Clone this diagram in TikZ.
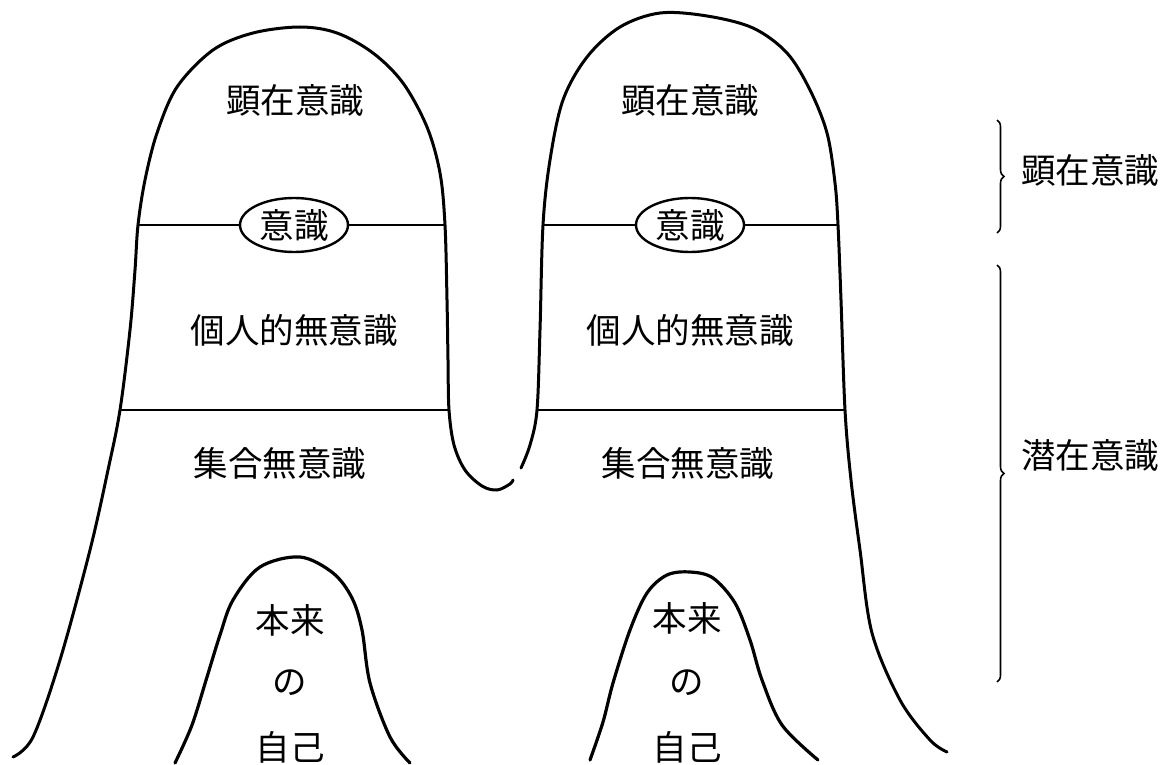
\documentclass[tikz,border=0pt]{standalone}
\usepackage{fontspec}
\newfontfamily\jp{Noto Sans CJK JP}
\usetikzlibrary{decorations.pathreplacing,shapes.geometric}
\begin{document}
\begin{tikzpicture}[x=1pt,y=-1pt,
  outline/.style={line width=3pt, line join=round, line cap=round},
  inner/.style={line width=3.2pt, line join=round, line cap=round},
  divider/.style={line width=2.4pt},
  lbl/.style={font=\jp\fontsize{34.5}{40}\selectfont, inner sep=0pt},
  eye/.style={draw, ellipse, line width=2.4pt, minimum width=108pt, minimum height=54pt, inner sep=0pt, font=\jp\fontsize{34.5}{40}\selectfont},
  bracket/.style={line width=1.6pt, decorate, decoration={brace, amplitude=7pt}}]
\useasboundingbox (0,0) rectangle (1170,765);
% outer outline, left mountain
\draw[outline] plot[smooth, tension=0.55] coordinates {
  (13,757) (33,737) (60,660) (90,550) (108,470) (120,410) (130,330) (135,270)
  (138,225) (145,180) (157,133) (177,87) (213,50) (253,33) (300,27) (337,33)
  (373,53) (403,83) (427,127) (440,173) (445,225) (447,300) (448,360)
  (449,410) (454,445) (465,470) (482,486) (497,490) (510,484) (513,480)};
% outer outline, right mountain
\draw[outline] plot[smooth, tension=0.55] coordinates {
  (521,468) (530,445) (537,410) (540,330) (543,225) (550,160) (563,100)
  (587,57) (620,27) (660,13) (707,16) (753,28) (787,53) (810,90) (827,133)
  (835,183) (838,225) (841,300)
  (845,410) (851,480) (860,550) (872,633) (900,700) (930,740) (947,752)};
% inner mountains
\draw[inner] plot[smooth, tension=0.55] coordinates {
  (175,763) (192,725) (207,677) (220,635) (233,600) (260,567) (300,557) (333,573)
  (352,598) (362,630) (370,683) (390,737) (410,763)};
\draw[inner] plot[smooth, tension=0.55] coordinates {
  (590,760) (603,722) (613,683) (630,630) (647,593) (667,575) (690,572) (713,578)
  (735,603) (750,640) (762,680) (782,725) (818,760)};
% consciousness ellipses and divider lines
\node[eye] (e1) at (294,225) {意識};
\node[eye] (e2) at (690,225) {意識};
\coordinate (l1a) at (138,225);
\coordinate (l1b) at (445,225);
\coordinate (r1a) at (543,225);
\coordinate (r1b) at (838,225);
\draw[divider] (l1a) -- (e1.west);
\draw[divider] (e1.east) -- (l1b);
\draw[divider] (r1a) -- (e2.west);
\draw[divider] (e2.east) -- (r1b);
\coordinate (l2a) at (120,410);
\coordinate (l2b) at (449,410);
\coordinate (r2a) at (537,410);
\coordinate (r2b) at (845,410);
\draw[divider] (l2a) -- (l2b);
\draw[divider] (r2a) -- (r2b);
% labels
\node[lbl] (t1) at (295,100) {顕在意識};
\node[lbl] (t2) at (690,100) {顕在意識};
\node[lbl] (p1) at (294,330) {個人的無意識};
\node[lbl] (p2) at (690,330) {個人的無意識};
\node[lbl] (c1) at (280,463) {集合無意識};
\node[lbl] (c2) at (688,463) {集合無意識};
\node[lbl] (s1a) at (290,620) {本来};
\node[lbl] (s1b) at (290,683) {の};
\node[lbl] (s1c) at (290,747) {自己};
\node[lbl] (s2a) at (687,618) {本来};
\node[lbl] (s2b) at (687,683) {の};
\node[lbl] (s2c) at (687,747) {自己};
% braces
\coordinate (b1a) at (997,120);
\coordinate (b1b) at (997,233);
\coordinate (b2a) at (997,265);
\coordinate (b2b) at (997,682);
\draw[bracket] (b1a) -- (b1b);
\draw[bracket] (b2a) -- (b2b);
\node[lbl] (k1) at (1090,170) {顕在意識};
\node[lbl] (k2) at (1090,455) {潜在意識};
\end{tikzpicture}
\end{document}
